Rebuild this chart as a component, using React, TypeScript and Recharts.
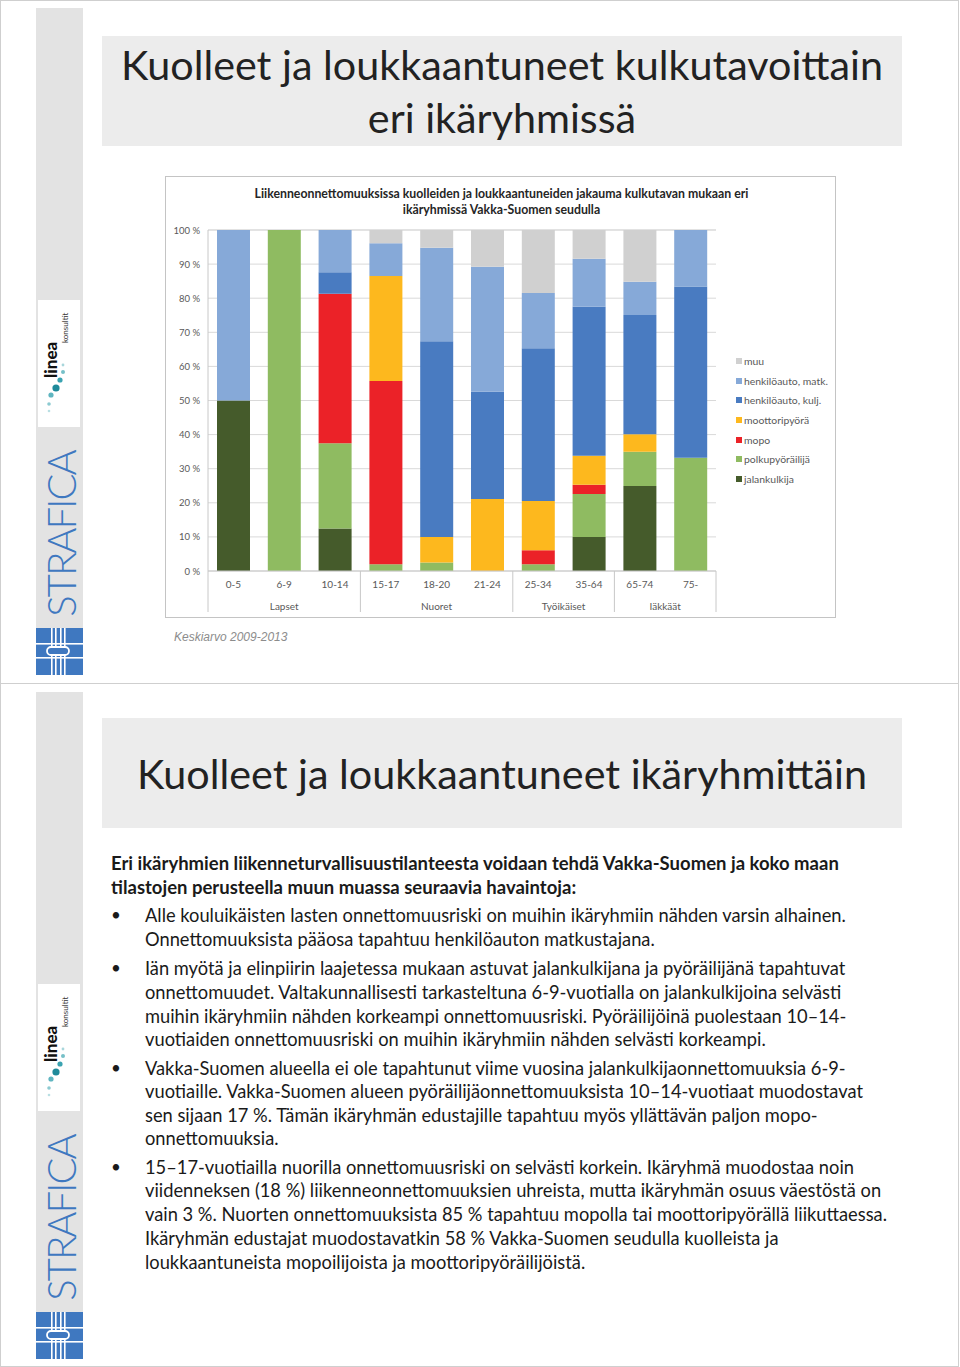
import React from "react";
import { BarChart, Bar, XAxis, YAxis, CartesianGrid } from "recharts";

// ---------- data ----------
const ages = ["0-5", "6-9", "10-14", "15-17", "18-20", "21-24", "25-34", "35-64", "65-74", "75-"];
const groupLabels = ["Lapset", "Nuoret", "Työikäiset", "Iäkkäät"];
const groupSizes = [3, 3, 2, 2];

const jalankulkija = [50, 0, 12.5, 0, 0, 0, 0, 10, 24.9, 0];
const polkupyorailija = [0, 100, 25, 2, 2.5, 0, 2, 12.6, 10.1, 33.2];
const mopo = [0, 0, 43.8, 53.7, 0, 0, 4.1, 2.7, 0, 0];
const moottoripyora = [0, 0, 0, 30.8, 7.5, 21.1, 14.4, 8.5, 5.1, 0];
const autoKulj = [0, 0, 6.3, 0, 57.4, 31.5, 44.8, 43.7, 35, 50.2];
const autoMatk = [50, 0, 12.4, 9.6, 27.4, 36.6, 16.2, 14.1, 9.7, 16.6];
const muu = [0, 0, 0, 3.9, 5.2, 10.8, 18.5, 8.4, 15.2, 0];

const yTicks = [0, 10, 20, 30, 40, 50, 60, 70, 80, 90, 100];

const series = [
  { key: "jalankulkija", name: "jalankulkija", values: jalankulkija, color: "#455b2b" },
  { key: "polku", name: "polkupyöräilijä", values: polkupyorailija, color: "#8fbb61" },
  { key: "mopo", name: "mopo", values: mopo, color: "#eb2228" },
  { key: "moottori", name: "moottoripyörä", values: moottoripyora, color: "#fdb81e" },
  { key: "kulj", name: "henkilöauto, kulj.", values: autoKulj, color: "#497bc1" },
  { key: "matk", name: "henkilöauto, matk.", values: autoMatk, color: "#86a9d8" },
  { key: "muu", name: "muu", values: muu, color: "#d0d0d0" },
];

const data = ages.map((age, i) => {
  const row: any = { age };
  series.forEach((s) => (row[s.key] = s.values[i]));
  return row;
});

// ---------- layout constants ----------
const CHART_W = 671;
const CHART_H = 442;
const MARGIN = { top: 54, right: 120, bottom: 3, left: 8 };
const Y_AXIS_W = 35;
const PLOT_W = CHART_W - MARGIN.left - MARGIN.right - Y_AXIS_W;
const BAND = PLOT_W / ages.length;
const FONT = "Lato, 'Open Sans', sans-serif";
const TEXT_COLOR = "#595959";

const AgeTick = (props: any) => {
  const { x, y, payload } = props;
  return (
    <text x={x} y={y + 13} textAnchor="middle" dominantBaseline="central" fontSize={10} fill={TEXT_COLOR} fontFamily={FONT}>
      {payload.value}
    </text>
  );
};

const GroupTick = (props: any) => {
  const { x, y, index } = props;
  const left = x - BAND / 2;
  const starts: number[] = [];
  let acc = 0;
  groupSizes.forEach((s) => {
    starts.push(acc);
    acc += s;
  });
  const gi = starts.indexOf(index);
  const out: any[] = [];
  if (gi >= 0) {
    out.push(<line key="l" x1={left} x2={left} y1={y - 22} y2={y + 19} stroke="#c8c8c8" strokeWidth={1} />);
    out.push(
      <text key="t" x={left + (groupSizes[gi] * BAND) / 2} y={y + 13} textAnchor="middle" dominantBaseline="central" fontSize={10} fill={TEXT_COLOR} fontFamily={FONT}>
        {groupLabels[gi]}
      </text>
    );
  }
  if (index === ages.length - 1) {
    out.push(<line key="r" x1={x + BAND / 2} x2={x + BAND / 2} y1={y - 22} y2={y + 19} stroke="#c8c8c8" strokeWidth={1} />);
  }
  return <g>{out}</g>;
};

const YTick = (props: any) => {
  const { x, y, payload } = props;
  return (
    <text x={x - 8} y={y} textAnchor="end" dominantBaseline="central" fontSize={9.5} fill={TEXT_COLOR} fontFamily={FONT}>
      {payload.value} %
    </text>
  );
};

const Chart = () => (
  <div style={{ position: "absolute", left: 165, top: 176, width: CHART_W, height: CHART_H, border: "1px solid #c4c4c4", boxSizing: "border-box", background: "#fff" }}>
    <div style={{ position: "absolute", left: 0, top: 0, width: CHART_W, textAlign: "center", fontFamily: FONT, fontWeight: 700, fontSize: 12.3, color: "#262626", lineHeight: "16px", paddingTop: 9 }}>
      Liikenneonnettomuuksissa kuolleiden ja loukkaantuneiden jakauma kulkutavan mukaan eri
      <br />
      ikäryhmissä Vakka-Suomen seudulla
    </div>
    <div style={{ position: "absolute", left: -1, top: -1 }}>
      <BarChart width={CHART_W} height={CHART_H} data={data} margin={MARGIN} barSize={33}>
        <CartesianGrid vertical={false} stroke="#d9d9d9" />
        <XAxis dataKey="age" xAxisId={0} height={22} tickLine={false} tickSize={0} tickMargin={0} axisLine={{ stroke: "#c8c8c8" }} tick={<AgeTick />} interval={0} />
        <XAxis dataKey="age" xAxisId="group" height={22} tickLine={false} tickSize={0} tickMargin={0} axisLine={false} tick={<GroupTick />} interval={0} />
        <YAxis type="number" domain={[0, 100]} ticks={yTicks} width={Y_AXIS_W} axisLine={{ stroke: "#c8c8c8" }} tickLine={false} tickSize={0} tickMargin={0} tick={<YTick />} interval={0} />
        {series.map((s) => (
          <Bar key={s.key} dataKey={s.key} name={s.name} stackId="a" fill={s.color} xAxisId={0} isAnimationActive={false} />
        ))}
      </BarChart>
    </div>
    <div style={{ position: "absolute", left: 570, top: 174, fontFamily: FONT, fontSize: 10.4, color: TEXT_COLOR }}>
      {[...series].reverse().map((s) => (
        <div key={s.key} style={{ display: "flex", alignItems: "center", height: 19.7, whiteSpace: "nowrap" }}>
          <span style={{ display: "inline-block", width: 6, height: 6, background: s.color, marginRight: 2 }} />
          {s.name}
        </div>
      ))}
    </div>
  </div>
);

// ---------- slide decorations ----------
const StrafLogo = ({ top }: { top: number }) => (
  <svg style={{ position: "absolute", left: 36, top }} width={47} height={47} viewBox="0 0 47 47">
    <rect x={0} y={0} width={47} height={47} fill="#3f78c0" />
    {[15, 19, 24, 28].map((vx) => (
      <rect key={vx} x={vx} y={0} width={1.6} height={47} fill="#fff" />
    ))}
    <rect x={0} y={15} width={47} height={1.6} fill="#fff" />
    <rect x={0} y={29} width={47} height={1.6} fill="#fff" />
    <rect x={11} y={19} width={22} height={8} rx={4} fill="#3f78c0" stroke="#fff" strokeWidth={1.8} />
  </svg>
);

const LineaLogo = ({ top }: { top: number }) => (
  <svg style={{ position: "absolute", left: 38, top }} width={42} height={127} viewBox="0 0 42 127">
    <rect x={0} y={0} width={42} height={127} fill="#fff" />
    <text transform="translate(19,78) rotate(-90)" fontFamily="Lato, sans-serif" fontWeight={900} fontSize={17} fill="#111">linea</text>
    <text transform="translate(30,43) rotate(-90)" fontFamily="Lato, sans-serif" fontSize={8} fill="#333">konsultit</text>
    <circle cx={18} cy={88} r={3.6} fill="#1e8a9a" />
    <circle cx={22} cy={80} r={2.6} fill="#3aa3b1" />
    <circle cx={13} cy={95} r={2.6} fill="#5fb5c0" />
    <circle cx={25} cy={72} r={2} fill="#76c0c8" />
    <circle cx={11} cy={104} r={1.8} fill="#8ccad1" />
    <circle cx={25} cy={65} r={1.4} fill="#a8d6db" />
    <circle cx={11} cy={111} r={1.3} fill="#b9dfe3" />
  </svg>
);

const Strip = ({ off }: { off: number }) => (
  <>
    <div style={{ position: "absolute", left: 36, top: 8 + off, width: 47, height: 667, background: "#e3e3e3" }} />
    <LineaLogo top={300 + off} />
    <div
      style={{
        position: "absolute",
        left: 61,
        top: 534 + off,
        transform: "translate(-50%, -50%) rotate(-90deg)",
        fontFamily: "Lato, sans-serif",
        fontWeight: 300,
        fontSize: 40,
        letterSpacing: -2,
        color: "#3f78c0",
        whiteSpace: "nowrap",
        lineHeight: "40px",
      }}
    >
      STRAFICA
    </div>
    <StrafLogo top={628 + off} />
  </>
);

const TitleBox = ({ top, lines }: { top: number; lines: string[] }) => (
  <div
    style={{
      position: "absolute",
      left: 102,
      top,
      width: 800,
      height: 110,
      background: "#ececec",
      display: "flex",
      flexDirection: "column",
      justifyContent: "center",
      alignItems: "center",
      fontFamily: "Lato, sans-serif",
      fontSize: 41.3,
      color: "#222",
      lineHeight: "53px",
    }}
  >
    {lines.map((l) => (
      <div key={l} style={{ whiteSpace: "nowrap" }}>{l}</div>
    ))}
  </div>
);

const bodyLines: { y: number; x: number; text: string; bold?: boolean; bullet?: boolean }[] = [
  { y: 863, x: 111, bold: true, text: "Eri ikäryhmien liikenneturvallisuustilanteesta voidaan tehdä Vakka-Suomen ja koko maan" },
  { y: 887, x: 111, bold: true, text: "tilastojen perusteella muun muassa seuraavia havaintoja:" },
  { y: 915, x: 145, bullet: true, text: "Alle kouluikäisten lasten onnettomuusriski on muihin ikäryhmiin nähden varsin alhainen." },
  { y: 939, x: 145, text: "Onnettomuuksista pääosa tapahtuu henkilöauton matkustajana." },
  { y: 968, x: 145, bullet: true, text: "Iän myötä ja elinpiirin laajetessa mukaan astuvat jalankulkijana ja pyöräilijänä tapahtuvat" },
  { y: 992, x: 145, text: "onnettomuudet. Valtakunnallisesti tarkasteltuna 6-9-vuotialla on jalankulkijoina selvästi" },
  { y: 1016, x: 145, text: "muihin ikäryhmiin nähden korkeampi onnettomuusriski. Pyöräilijöinä puolestaan 10–14-" },
  { y: 1039, x: 145, text: "vuotiaiden onnettomuusriski on muihin ikäryhmiin nähden selvästi korkeampi." },
  { y: 1068, x: 145, bullet: true, text: "Vakka-Suomen alueella ei ole tapahtunut viime vuosina jalankulkijaonnettomuuksia 6-9-" },
  { y: 1091, x: 145, text: "vuotiaille. Vakka-Suomen alueen pyöräilijäonnettomuuksista 10–14-vuotiaat muodostavat" },
  { y: 1115, x: 145, text: "sen sijaan 17 %. Tämän ikäryhmän edustajille tapahtuu myös yllättävän paljon mopo-" },
  { y: 1138, x: 145, text: "onnettomuuksia." },
  { y: 1167, x: 145, bullet: true, text: "15–17-vuotiailla nuorilla onnettomuusriski on selvästi korkein. Ikäryhmä muodostaa noin" },
  { y: 1190, x: 145, text: "viidenneksen (18 %) liikenneonnettomuuksien uhreista, mutta ikäryhmän osuus väestöstä on" },
  { y: 1214, x: 145, text: "vain 3 %. Nuorten onnettomuuksista 85 % tapahtuu mopolla tai moottoripyörällä liikuttaessa." },
  { y: 1238, x: 145, text: "Ikäryhmän edustajat muodostavatkin 58 % Vakka-Suomen seudulla kuolleista ja" },
  { y: 1262, x: 145, text: "loukkaantuneista mopoilijoista ja moottoripyöräilijöistä." },
];

const Body = () => (
  <>
    {bodyLines.map((l, i) => (
      <React.Fragment key={i}>
        {l.bullet && (
          <div style={{ position: "absolute", left: 111, top: l.y - 12, lineHeight: "24px", fontFamily: "Lato, sans-serif", fontSize: 17, color: "#1a1a1a" }}>•</div>
        )}
        <div
          style={{
            position: "absolute",
            left: l.x,
            top: l.y - 12,
            lineHeight: "24px",
            whiteSpace: "nowrap",
            fontFamily: "Lato, sans-serif",
            fontSize: l.bold ? 18.5 : 18.3,
            fontWeight: l.bold ? 700 : 400,
            color: "#1a1a1a",
          }}
        >
          {l.text}
        </div>
      </React.Fragment>
    ))}
  </>
);

export default function App() {
  return (
    <div style={{ position: "absolute", left: 0, top: 0, width: 960, height: 1367, background: "#fff", overflow: "hidden" }}>
      <div style={{ position: "absolute", left: 0, top: 0, width: 959, height: 684, border: "1px solid #cfcfcf", boxSizing: "border-box" }} />
      <div style={{ position: "absolute", left: 0, top: 683, width: 959, height: 684, border: "1px solid #cfcfcf", boxSizing: "border-box" }} />
      <Strip off={0} />
      <Strip off={684} />
      <TitleBox top={36} lines={["Kuolleet ja loukkaantuneet kulkutavoittain", "eri ikäryhmissä"]} />
      <TitleBox top={718} lines={["Kuolleet ja loukkaantuneet ikäryhmittäin"]} />
      <Chart />
      <div style={{ position: "absolute", left: 174, top: 630, fontFamily: "'Liberation Sans', Arial, sans-serif", fontStyle: "italic", fontSize: 12, color: "#8c8c8c", whiteSpace: "nowrap" }}>
        Keskiarvo 2009-2013
      </div>
      <Body />
    </div>
  );
}
